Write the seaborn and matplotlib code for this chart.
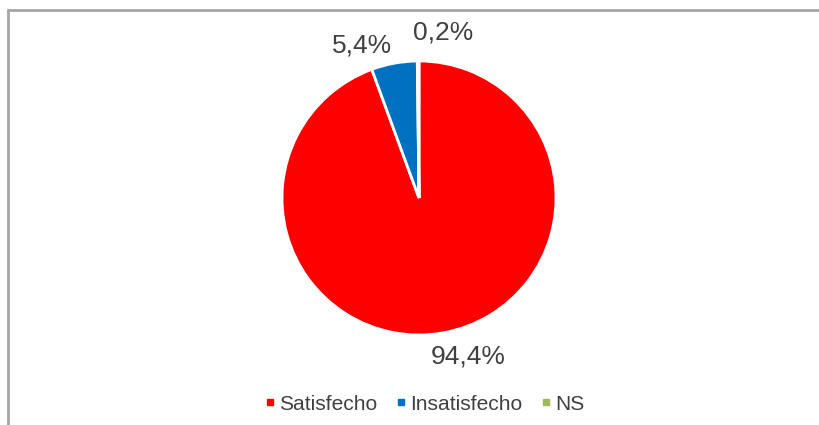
import numpy as np
import matplotlib
matplotlib.use("Agg")
import matplotlib.pyplot as plt
from matplotlib.lines import Line2D
import seaborn as sns

categories = ["Satisfecho", "Insatisfecho", "NS"]
values = [94.4, 5.4, 0.2]
pct_labels = ["94,4%", "5,4%", "0,2%"]
colors = ["#FF0000", "#0070C0", "#9BBB59"]

sns.set_theme(style="white")
plt.rcParams["font.family"] = ["Liberation Sans", "DejaVu Sans"]

fig = plt.figure(figsize=(8.19, 4.25), dpi=100)
fig.patch.set_facecolor("white")

# chart frame (left and top edges visible)
fig.add_artist(Line2D([0.0098, 0.0098], [0.0, 0.9765], transform=fig.transFigure,
                      color="#A6A6A6", lw=2))
fig.add_artist(Line2D([0.0098, 1.0], [0.9765, 0.9765], transform=fig.transFigure,
                      color="#A6A6A6", lw=2))

ax = fig.add_axes([0.3443, 0.2118, 0.3346, 0.6447])
wedges, _ = ax.pie(values, colors=colors, startangle=90, counterclock=False,
                   wedgeprops=dict(edgecolor="white", linewidth=2), radius=1.0)
ax.set_xlim(-1, 1)
ax.set_ylim(-1, 1)
ax.set_aspect("equal")
ax.axis("off")

# label placement: outside each wedge, with slight angular shifts like Excel
shift = [7.0, 10.0, -8.5]
dist = [1.21, 1.19, 1.22]
for w, lab, s, d in zip(wedges, pct_labels, shift, dist):
    mid = np.deg2rad((w.theta1 + w.theta2) / 2 + s)
    ax.text(d * np.cos(mid), d * np.sin(mid), lab, ha="center", va="center",
            fontsize=19, color="#404040", clip_on=False)

handles = [Line2D([], [], marker="s", linestyle="none", markersize=5,
                  markerfacecolor=c, markeredgecolor=c) for c in colors]
fig.legend(handles, categories, loc="center", bbox_to_anchor=(0.517, 0.049),
           ncol=3, frameon=False, fontsize=15.1, labelcolor="#404040",
           handletextpad=0.1, columnspacing=0.75, handlelength=0.7)

fig.savefig("out.png", dpi=100, facecolor="white")
